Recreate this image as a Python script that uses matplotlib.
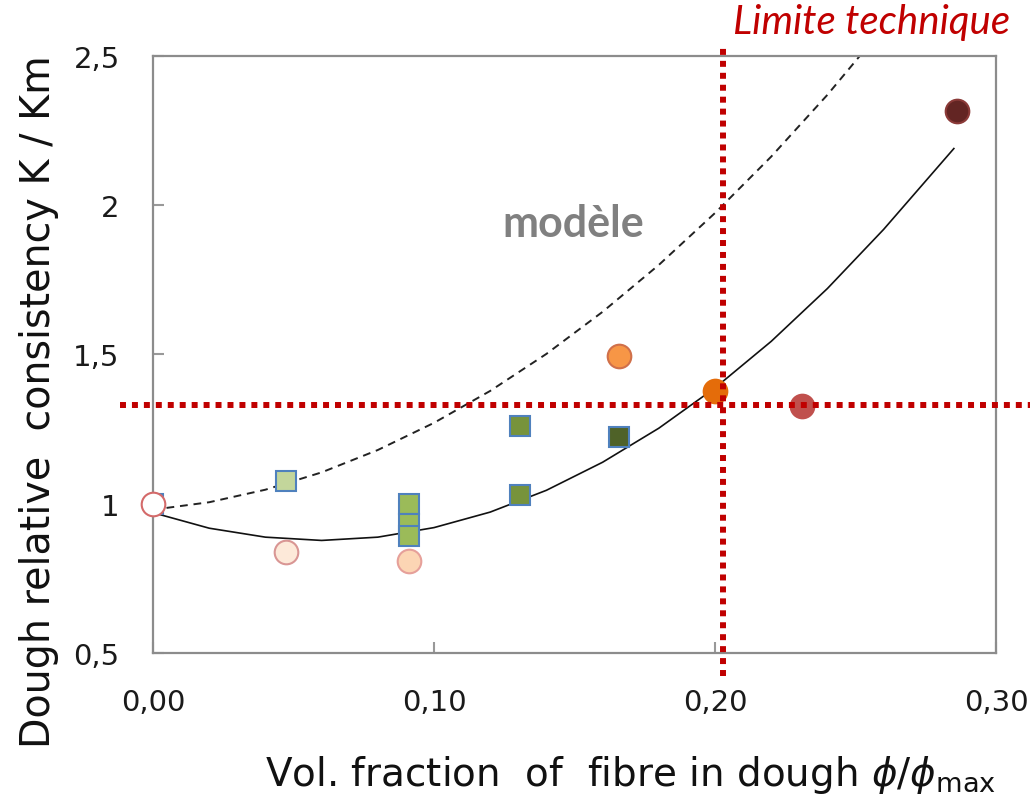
import matplotlib
matplotlib.use("Agg")
import matplotlib.pyplot as plt
from matplotlib.ticker import FuncFormatter

# mesures : fraction volumique de fibres (phi/phi_max) et consistance relative K/Km
cercles_phi = [0.0, 0.0473, 0.091, 0.166, 0.200, 0.231, 0.286]
cercles_k = [1.0, 0.838, 0.808, 1.495, 1.378, 1.327, 2.316]
cercles_fond = ["#FFFFFF", "#FDE9D9", "#FCD5B4", "#F79646", "#E46C0A", "#C0504D", "#632523"]
cercles_bord = ["#D46A6A", "#D99694", "#E6A09A", "#D0704A", "#E46C0A", "#C0504D", "#8B3A38"]

carres_phi = [0.0, 0.0473, 0.091, 0.091, 0.091, 0.1306, 0.1306, 0.166]
carres_k = [1.0, 1.076, 1.0, 0.932, 0.893, 1.260, 1.029, 1.224]
carres_fond = ["#C3D69B", "#C3D69B", "#9BBB59", "#9BBB59", "#9BBB59", "#77933C", "#77933C", "#4F6228"]

# courbe ajustée (trait plein) et modèle (tirets)
ajust_phi = [0.0, 0.02, 0.04, 0.06, 0.08, 0.10, 0.12, 0.14, 0.16, 0.18, 0.20, 0.22, 0.24, 0.26, 0.285]
ajust_k = [0.97, 0.918, 0.888, 0.877, 0.888, 0.92, 0.972, 1.045, 1.139, 1.253, 1.388, 1.544, 1.721, 1.919, 2.19]
modele_phi = [0.0, 0.02, 0.04, 0.06, 0.08, 0.10, 0.12, 0.14, 0.16, 0.18, 0.20, 0.22, 0.24, 0.2515]
modele_k = [0.98, 1.005, 1.047, 1.105, 1.180, 1.271, 1.378, 1.502, 1.643, 1.800, 1.974, 2.163, 2.37, 2.50]

LIMITE_K = 1.33
LIMITE_PHI = 0.2028
ROUGE = "#C00000"

fig = plt.figure(figsize=(10.36, 8.03), dpi=100)
ax = fig.add_axes([0.1477, 0.1856, 0.8137, 0.7434])

ax.plot(modele_phi, modele_k, color="#222222", lw=1.4, ls=(0, (4, 3)), zorder=2)
ax.plot(ajust_phi, ajust_k, color="#111111", lw=1.2, zorder=2)

for x, y, c in zip(carres_phi, carres_k, carres_fond):
    ax.plot(x, y, marker="s", ms=14.5, mfc=c, mec="#4F81BD", mew=1.5, zorder=3)
for x, y, c, e in zip(cercles_phi, cercles_k, cercles_fond, cercles_bord):
    ax.plot(x, y, marker="o", ms=17, mfc=c, mec=e, mew=1.5, zorder=4, clip_on=False)

# limites techniques en pointillés rouges
ax.axhline(LIMITE_K, xmin=-0.039, xmax=1.04, color=ROUGE, lw=4.3,
           ls=(0, (1, 1)), dash_capstyle="butt", clip_on=False, zorder=5)
ax.axvline(LIMITE_PHI, ymin=-0.0385, ymax=1.015, color=ROUGE, lw=4.3,
           ls=(0, (1, 1)), dash_capstyle="butt", clip_on=False, zorder=5)

ax.set_xlim(0, 0.30)
ax.set_ylim(0.5, 2.5)
ax.set_xticks([0, 0.1, 0.2, 0.3])
ax.set_yticks([0.5, 1, 1.5, 2, 2.5])
ax.xaxis.set_major_formatter(FuncFormatter(lambda v, p: f"{v:.2f}".replace(".", ",")))
ax.yaxis.set_major_formatter(FuncFormatter(lambda v, p: f"{v:g}".replace(".", ",")))
ax.tick_params(direction="in", length=8, width=1.5, color="#999999",
               labelsize=21, labelcolor="#1a1a1a", pad=24)
ax.tick_params(axis="x", pad=25)
for s in ax.spines.values():
    s.set_color("#8c8c8c")
    s.set_linewidth(1.6)

ax.text(0.1495, 1.94, "modèle", fontsize=31, fontweight="bold", color="#808080",
        family="Lato", ha="center", va="center")
fig.text(0.8415, 0.972, "Limite technique", fontsize=29, style="italic", color=ROUGE,
         family="Lato", ha="center", va="center")

fig.text(0.609, 0.035, r"Vol. fraction  of  fibre in dough $\phi/\phi_{\mathrm{max}}$",
         fontsize=28, ha="center", va="center", color="#111111")
fig.text(0.038, 0.5, "Dough relative  consistency K / Km", fontsize=28.5,
         rotation=90, ha="center", va="center", color="#111111")

fig.savefig("out.png", dpi=100)
